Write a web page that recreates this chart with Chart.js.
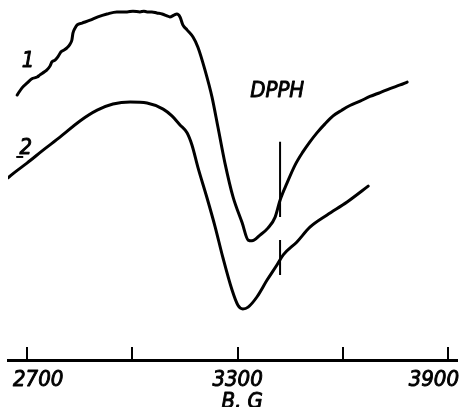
<!DOCTYPE html>
<html>
<head>
<meta charset="utf-8">
<script src="https://cdn.jsdelivr.net/npm/chart.js@4"></script>
<style>
html,body{margin:0;padding:0;background:#fff;}
#wrap{width:459px;height:407px;}
</style>
</head>
<body>
<div id="wrap"><canvas id="c" width="459" height="407"></canvas></div>
<script>
// Magnetic field B, G and signal (arbitrary units)
const curve1B = [2672,2686,2700,2714,2729,2737,2749,2757,2766,2771,2780,2788,2797,2806,2814,2823,2828,2831,2837,2843,2857,2880,2902,2928,2956,2985,3002,3022,3033,3042,3056,3070,3085,3099,3107,3119,3127,3136,3144,3156,3173,3187,3207,3227,3244,3264,3287,3313,3330,3341,3364,3387,3407,3421,3441,3464,3486,3506,3526,3549,3572,3597,3620,3649,3677,3706,3734,3763,3783];
const curve1Y = [73.6,75.6,76.9,78.1,78.6,79.2,80.0,80.6,81.7,82.8,83.3,84.2,85.6,86.1,86.7,87.8,88.9,90.8,92.2,93.1,93.6,94.4,95.3,96.1,96.7,96.7,96.9,96.7,96.9,96.7,96.7,96.4,96.1,95.6,95.3,95.8,96.1,95.3,93.1,91.7,89.7,86.9,80.6,73.1,64.7,54.7,45.3,38.1,33.3,33.1,34.7,36.7,39.7,44.4,49.2,54.2,57.8,60.6,63.1,65.6,67.8,69.4,70.7,71.9,73.2,74.3,75.4,76.4,77.2];

const curve2B = [2646,2666,2700,2746,2794,2851,2900,2945,2994,3042,3088,3113,3136,3156,3170,3187,3213,3236,3258,3284,3301,3315,3330,3355,3384,3412,3430,3469,3506,3555,3612,3672];
const curve2Y = [50.6,52.2,54.7,58.3,61.9,66.4,69.4,71.1,71.7,71.4,69.7,67.8,65.3,63.1,59.7,53.5,45.0,37.0,28.5,19.5,15.2,14.2,14.7,17.5,22.2,26.4,29.2,32.8,36.9,40.3,43.9,48.3];

// DPPH reference field marker
const dpphB = 3421;
const dpphUpperY = [60.6, 39.7];
const dpphLowerY = [33.3, 23.6];

const tickValues = [2700, 3000, 3300, 3600, 3900];
const tickLabels = ['2700', '', '3300', '', '3900'];
const axisTitle = 'B, G';
const curveLabels = ['1', '2'];
const dpphLabel = 'DPPH';

const toPts = (xs, ys) => xs.map((x, i) => ({x: x, y: ys[i]}));

const FONT = 'italic 22px "DejaVu Sans Condensed", "DejaVu Sans", sans-serif';

function drawText(ctx, txt, x, y, align) {
  ctx.textAlign = align || 'center';
  ctx.textBaseline = 'alphabetic';
  ctx.fillText(txt, x, y);
  ctx.strokeText(txt, x, y);
}

const decor = {
  id: 'decor',
  afterDraw(chart) {
    const ctx = chart.ctx;
    const xs = chart.scales.x, ys = chart.scales.y;
    const area = chart.chartArea;
    ctx.save();
    ctx.strokeStyle = '#000';
    ctx.fillStyle = '#000';
    // tick marks pointing up from the axis
    ctx.lineWidth = 2;
    tickValues.forEach(v => {
      const px = Math.round(xs.getPixelForValue(v));
      ctx.beginPath();
      ctx.moveTo(px, area.bottom);
      ctx.lineTo(px, area.bottom - 13);
      ctx.stroke();
    });
    ctx.font = FONT;
    ctx.lineWidth = 0.9;
    ctx.lineJoin = 'round';
    tickValues.forEach((v, i) => {
      const t = tickLabels[i];
      if (!t) return;
      const w = ctx.measureText(t).width;
      let px = xs.getPixelForValue(v);
      px = Math.max(px, area.left + w / 2 + 5);
      px = Math.min(px, area.right - w / 2 + 2);
      drawText(ctx, t, px, area.bottom + 26, 'center');
    });
    drawText(ctx, axisTitle, xs.getPixelForValue(3313), area.bottom + 48, 'center');
    drawText(ctx, curveLabels[0], xs.getPixelForValue(2703), ys.getPixelForValue(81.4), 'center');
    drawText(ctx, curveLabels[1], xs.getPixelForValue(2697), ys.getPixelForValue(57.2), 'center');
    ctx.lineWidth = 2;
    ctx.beginPath();
    const lx = xs.getPixelForValue(2678);
    const ly = ys.getPixelForValue(56.4);
    ctx.moveTo(lx - 3, ly);
    ctx.lineTo(lx + 4, ly);
    ctx.stroke();
    ctx.lineWidth = 0.9;
    drawText(ctx, dpphLabel, xs.getPixelForValue(3413), ys.getPixelForValue(73.1), 'center');
    ctx.restore();
  }
};

const lineStyle = {
  borderColor: '#000',
  borderWidth: 3,
  pointRadius: 0,
  fill: false,
  cubicInterpolationMode: 'monotone',
  borderCapStyle: 'round',
  borderJoinStyle: 'round'
};

new Chart(document.getElementById('c'), {
  type: 'line',
  data: {
    datasets: [
      Object.assign({label: '1', data: toPts(curve1B, curve1Y)}, lineStyle),
      Object.assign({label: '2', data: toPts(curve2B, curve2Y)}, lineStyle),
      {label: 'DPPH a', data: toPts([dpphB, dpphB], dpphUpperY), borderColor: '#000', borderWidth: 2, pointRadius: 0, tension: 0},
      {label: 'DPPH b', data: toPts([dpphB, dpphB], dpphLowerY), borderColor: '#000', borderWidth: 2, pointRadius: 0, tension: 0}
    ]
  },
  options: {
    responsive: false,
    animation: false,
    events: [],
    layout: {padding: {left: 8, right: 2, top: 0, bottom: 47}},
    plugins: {legend: {display: false}, tooltip: {enabled: false}},
    scales: {
      x: {
        type: 'linear', min: 2646, max: 3925,
        grid: {display: false, drawTicks: false},
        border: {display: true, color: '#000', width: 3},
        ticks: {display: false}
      },
      y: {type: 'linear', min: 0, max: 100, display: false}
    }
  },
  plugins: [decor]
});
</script>
</body>
</html>
